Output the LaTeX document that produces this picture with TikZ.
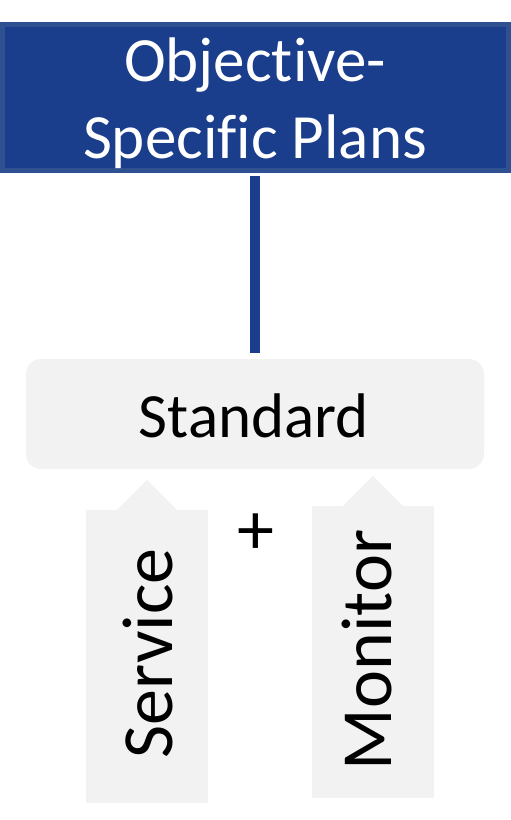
\documentclass[tikz,border=0pt]{standalone}
\usepackage{fontspec}
\setmainfont{Carlito}[Ligatures=NoCommon]
\usepackage{xcolor}
\usepackage{tikz}
\usetikzlibrary{calc}
\definecolor{navy}{HTML}{1A3E8B}
\definecolor{edge}{HTML}{2F5191}
\definecolor{pale}{HTML}{F2F2F2}
\newcommand{\nolig}{\kern0pt{}}
\tikzset{
  planbox/.style={rectangle, draw=edge, fill=navy, line width=5pt, minimum width=506pt, minimum height=146pt, inner sep=0pt},
  plantext/.style={text=white, align=center, font=\fontsize{63}{77}\selectfont, inner sep=0pt},
  stdbox/.style={rectangle, fill=pale, rounded corners=15pt, minimum width=458pt, minimum height=110pt, inner sep=0pt},
  stdtext/.style={text=black, font=\fontsize{63}{77}\selectfont, inner sep=0pt},
  tagbox/.style={rectangle, fill=pale, minimum width=122pt, inner sep=0pt},
  tagtext/.style={text=black, rotate=90, font=\fontsize{72}{86}\selectfont, inner sep=0pt},
  link/.style={draw=navy, line width=10pt},
}
\begin{document}
\begin{tikzpicture}[x=1pt,y=-1pt]
  \useasboundingbox (0,0) rectangle (511,820);
  % top box
  \node[planbox] (plans) at (255.5,97.5) {};
  \node[plantext] (planlabel) at (255,103) {Object\nolig ive-\\Specif\nolig ic Plans};
  % standard box
  \node[stdbox] (standard) at (255,414) {};
  \node[stdtext] (stdlabel) at (254,416) {Standard};
  \draw[link, shorten <=2.5pt, shorten >=6pt] (plans.south -| standard.north) -- (standard.north);
  % the two tags
  \node[tagbox, minimum height=293pt] (service) at (147,656.5) {};
  \node[tagbox, minimum height=292pt] (monitor) at (373,652) {};
  \fill[pale] ($(service.north)+(-30,0)$) -- ($(service.north)+(0,-30)$) -- ($(service.north)+(30,0)$) -- cycle;
  \fill[pale] ($(monitor.north)+(-30,0)$) -- ($(monitor.north)+(0,-30)$) -- ($(monitor.north)+(30,0)$) -- cycle;
  \node[tagtext] (servicelabel) at (147.5,653.5) {Service};
  \node[tagtext] (monitorlabel) at (367,650) {Monitor};
  \node[text=black, inner sep=0pt, font=\fontsize{74}{86}\selectfont] (plus) at (256,534) {+};
\end{tikzpicture}
\end{document}
